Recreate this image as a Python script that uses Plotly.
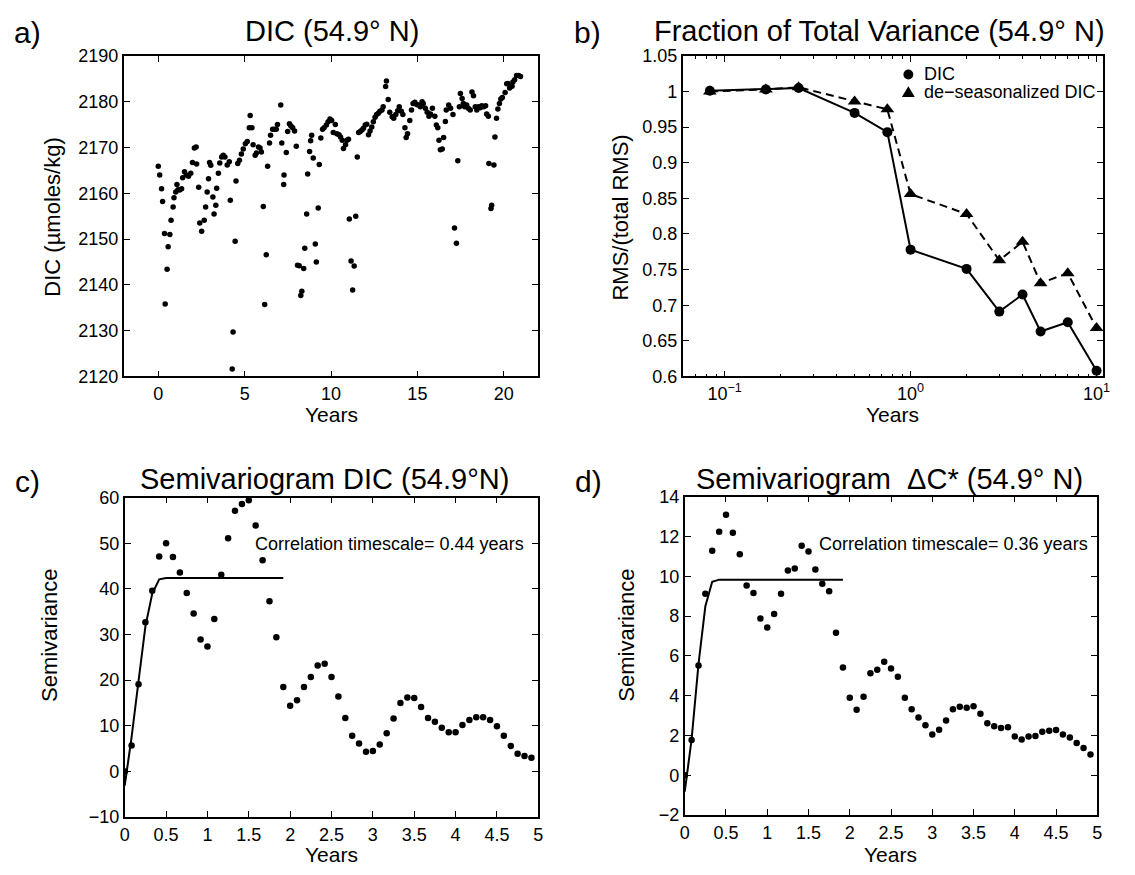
import plotly.graph_objects as go

W, H = 1135, 875
FONT = "Liberation Sans, Arial, Helvetica, sans-serif"

# ---------------- data ----------------
# Panel a: DIC time series
years_a = [0, 0.08, 0.19, 0.25, 0.36, 0.40, 0.51, 0.57, 0.67, 0.74,
           0.86, 0.91, 1.01, 1.08, 1.14, 1.24, 1.35, 1.41, 1.52, 1.62,
           1.75, 1.88, 1.98, 2.09, 2.19, 2.22, 2.34, 2.40, 2.51, 2.66,
           2.74, 2.83, 2.91, 2.97, 3.04, 3.16, 3.23, 3.33, 3.38, 3.48,
           3.56, 3.67, 3.76, 3.86, 3.99, 4.11, 4.17, 4.28, 4.33, 4.45,
           4.50, 4.60, 4.70, 4.81, 4.92, 5.04, 5.15, 5.27, 5.32, 5.42,
           5.49, 5.61, 5.68, 5.80, 5.89, 5.97, 6.08, 6.16, 6.25, 6.33,
           6.44, 6.50, 6.62, 6.73, 6.83, 6.90, 7.09, 7.15, 7.26, 7.28,
           7.41, 7.49, 7.59, 7.68, 7.78, 7.89, 7.99, 8.06, 8.16, 8.25,
           8.31, 8.42, 8.48, 8.59, 8.65, 8.76, 8.82, 8.88, 8.97, 9.09,
           9.15, 9.26, 9.32, 9.41, 9.51, 9.60, 9.73, 9.83, 9.94, 10.04,
           10.13, 10.25, 10.34, 10.46, 10.55, 10.65, 10.72, 10.84, 10.93, 11.01,
           11.06, 11.16, 11.25, 11.34, 11.43, 11.52, 11.60, 11.69, 11.79, 11.88,
           11.98, 12.07, 12.17, 12.26, 12.36, 12.45, 12.55, 12.64, 12.74, 12.83,
           12.95, 13.02, 13.16, 13.21, 13.31, 13.40, 13.54, 13.63, 13.75, 13.86,
           13.95, 14.07, 14.16, 14.28, 14.35, 14.43, 14.56, 14.66, 14.75, 14.85,
           14.96, 15.06, 15.17, 15.27, 15.34, 15.46, 15.57, 15.67, 15.76, 15.87,
           16.01, 16.10, 16.18, 16.25, 16.33, 16.44, 16.52, 16.62, 16.67, 16.81,
           16.92, 17.06, 17.15, 17.26, 17.34, 17.43, 17.49, 17.59, 17.66, 17.74,
           17.85, 17.95, 18.06, 18.16, 18.25, 18.35, 18.44, 18.54, 18.63, 18.73,
           18.84, 18.95, 19.01, 19.11, 19.14, 19.26, 19.30, 19.43, 19.49, 19.58,
           19.66, 19.75, 19.83, 19.92, 20.08, 20.17, 20.25, 20.34, 20.48, 20.53,
           20.63, 20.74, 20.86, 20.97]
dic_a = [2165.9, 2164.0, 2161.0, 2158.2, 2151.2, 2135.8, 2143.4, 2148.3, 2151.0, 2154.1,
         2157.0, 2159.0, 2160.3, 2161.9, 2160.8, 2160.7, 2161.0, 2163.4, 2164.7, 2164.0,
         2163.7, 2164.4, 2166.7, 2169.9, 2170.1, 2166.4, 2161.3, 2153.5, 2151.7, 2154.1,
         2157.0, 2160.3, 2163.2, 2166.7, 2166.1, 2159.2, 2155.5, 2157.4, 2161.1, 2164.4,
         2166.6, 2167.9, 2168.3, 2167.9, 2166.2, 2166.9, 2158.5, 2121.6, 2129.7, 2149.5,
         2162.7, 2166.5, 2167.2, 2168.6, 2169.7, 2170.8, 2171.3, 2174.3, 2177.0, 2174.3,
         2170.6, 2168.3, 2168.8, 2170.1, 2169.9, 2169.0, 2157.1, 2135.7, 2146.6, 2165.9,
         2171.0, 2172.7, 2174.0, 2174.0, 2174.0, 2175.0, 2179.3, 2171.0, 2161.9, 2164.0,
         2168.9, 2173.5, 2175.2, 2174.7, 2174.3, 2173.6, 2170.3, 2144.3, 2144.2, 2137.7,
         2138.6, 2143.6, 2148.0, 2155.5, 2164.2, 2169.1, 2171.5, 2172.7, 2167.7, 2148.9,
         2145.0, 2156.8, 2166.3, 2172.1, 2174.0, 2174.3, 2174.9, 2175.6, 2176.2, 2175.9,
         2173.3, 2175.0, 2173.0, 2172.8, 2172.3, 2171.6, 2169.8, 2170.6, 2171.6, 2171.8,
         2154.4, 2145.2, 2138.9, 2144.1, 2155.0, 2167.9, 2173.3, 2173.5, 2173.8, 2174.2,
         2174.9, 2175.1, 2172.8, 2173.6, 2174.5, 2175.6, 2176.6, 2177.2, 2177.5, 2177.9,
         2178.2, 2178.9, 2183.3, 2184.5, 2180.5, 2177.7, 2176.7, 2176.4, 2177.2, 2178.0,
         2178.9, 2177.9, 2177.2, 2174.3, 2172.2, 2173.0, 2175.9, 2178.2, 2179.6, 2179.9,
         2179.4, 2179.3, 2178.9, 2180.0, 2179.6, 2178.6, 2177.7, 2176.8, 2177.3, 2178.6,
         2176.8, 2174.9, 2174.3, 2171.6, 2169.5, 2169.7, 2172.2, 2175.7, 2178.2, 2179.3,
         2178.6, 2177.2, 2152.4, 2149.1, 2167.1, 2178.9, 2181.8, 2180.7, 2179.6, 2178.9,
         2179.3, 2178.6, 2178.2, 2182.1, 2181.3, 2178.9, 2178.2, 2178.9, 2178.7, 2179.1,
         2178.9, 2179.1, 2177.3, 2176.8, 2166.5, 2156.7, 2157.4, 2166.2, 2172.3, 2176.4,
         2178.4, 2179.6, 2180.6, 2180.9, 2182.0, 2183.9, 2184.0, 2183.0, 2183.4, 2184.3,
         2184.8, 2185.7, 2185.7, 2185.5]

# Panel b: fraction of total variance
win_b = [0.0833, 0.1667, 0.25, 0.5, 0.75, 1, 2, 3, 4, 5, 7, 10]
rms_dic = [1.001, 1.003, 1.005, 0.970, 0.943, 0.778, 0.751, 0.691, 0.715, 0.663, 0.676, 0.608]
rms_deseas = [1.000, 1.003, 1.006, 0.986, 0.975, 0.856, 0.828, 0.763, 0.789, 0.731, 0.745, 0.668]
legend_b = ["DIC", "de\u2212seasonalized DIC"]

# Panels c, d: semivariograms (monthly lags)
lags = [0, 0.083, 0.167, 0.25, 0.333, 0.417, 0.5, 0.583, 0.667, 0.75,
        0.833, 0.917, 1, 1.083, 1.167, 1.25, 1.333, 1.417, 1.5, 1.583,
        1.667, 1.75, 1.833, 1.917, 2, 2.083, 2.167, 2.25, 2.333, 2.417,
        2.5, 2.583, 2.667, 2.75, 2.833, 2.917, 3, 3.083, 3.167, 3.25,
        3.333, 3.417, 3.5, 3.583, 3.667, 3.75, 3.833, 3.917, 4, 4.083,
        4.167, 4.25, 4.333, 4.417, 4.5, 4.583, 4.667, 4.75, 4.833, 4.917]
semi_dic = [0, 5.7, 19.1, 32.7, 39.6, 47.1, 50.0, 47.0, 43.6, 39.1,
            34.6, 28.9, 27.4, 33.4, 43.1, 51.1, 57.1, 58.6, 59.4, 53.9,
            46.3, 37.3, 29.4, 18.5, 14.4, 15.6, 18.5, 20.7, 23.2, 23.6,
            20.7, 16.4, 11.7, 7.8, 6.1, 4.3, 4.5, 5.9, 8.4, 11.6,
            15.0, 16.2, 16.1, 14.1, 11.7, 10.9, 9.6, 8.6, 8.6, 10.2,
            11.3, 11.9, 11.9, 11.3, 9.9, 7.8, 5.6, 3.9, 3.4, 3.0]
fit_dic = [-3.1, 7.5, 19.8, 31.8, 39.0, 42.1, 42.4, 42.4, 42.4, 42.4, 42.4, 42.4,
           42.4, 42.4, 42.4, 42.4, 42.4, 42.4, 42.4, 42.4, 42.4, 42.4, 42.4, 42.4]
semi_dc = [0, 1.77, 5.52, 9.12, 11.28, 12.23, 13.09, 12.19, 11.11, 9.53,
           9.16, 7.88, 7.42, 8.11, 9.12, 10.29, 10.39, 11.53, 11.24, 10.34,
           9.62, 9.25, 7.16, 5.42, 3.90, 3.29, 3.95, 5.13, 5.31, 5.70,
           5.37, 4.95, 3.90, 3.32, 2.90, 2.52, 2.05, 2.29, 2.75, 3.32,
           3.44, 3.39, 3.47, 3.10, 2.62, 2.47, 2.38, 2.42, 1.95, 1.80,
           1.95, 1.98, 2.19, 2.24, 2.28, 2.05, 1.90, 1.62, 1.38, 1.05]
fit_dc = [-0.82, 1.8, 5.6, 8.5, 9.72, 9.83, 9.83, 9.83, 9.83, 9.83, 9.83, 9.83,
          9.83, 9.83, 9.83, 9.83, 9.83, 9.83, 9.83, 9.83, 9.83, 9.83, 9.83, 9.83]

# tick labels
ticks_a_y = [2120, 2130, 2140, 2150, 2160, 2170, 2180, 2190]
ticks_a_x = [0, 5, 10, 15, 20]
ticks_b_y = [0.6, 0.65, 0.7, 0.75, 0.8, 0.85, 0.9, 0.95, 1.0, 1.05]
ticks_b_ytext = ["0.6", "0.65", "0.7", "0.75", "0.8", "0.85", "0.9", "0.95", "1", "1.05"]
ticks_b_x = [0.1, 1, 10]
ticks_b_xtext = ["10<sup>\u22121</sup>", "10<sup>0</sup>", "10<sup>1</sup>"]
minor_b_x = [0.06, 0.07, 0.08, 0.09, 0.2, 0.3, 0.4, 0.5, 0.6, 0.7, 0.8, 0.9,
             2, 3, 4, 5, 6, 7, 8, 9]
ticks_cd_x = [0, 0.5, 1, 1.5, 2, 2.5, 3, 3.5, 4, 4.5, 5]
ticks_cd_xtext = ["0", "0.5", "1", "1.5", "2", "2.5", "3", "3.5", "4", "4.5", "5"]
ticks_c_y = [-10, 0, 10, 20, 30, 40, 50, 60]
ticks_d_y = [-2, 0, 2, 4, 6, 8, 10, 12, 14]

# ---------------- figure ----------------
fig = go.Figure()

def px(x):
    return x / W

def py(y):
    return 1 - y / H

# panel a
fig.add_trace(go.Scatter(x=years_a, y=dic_a, mode="markers", xaxis="x", yaxis="y",
                         marker=dict(color="black", size=5.5), showlegend=False))
# panel b
fig.add_trace(go.Scatter(x=win_b, y=rms_dic, mode="lines+markers", xaxis="x2", yaxis="y2",
                         line=dict(color="black", width=2),
                         marker=dict(color="black", size=10, symbol="circle"), showlegend=False))
fig.add_trace(go.Scatter(x=win_b, y=rms_deseas, mode="lines+markers", xaxis="x2", yaxis="y2",
                         line=dict(color="black", width=2, dash="8px,5px"),
                         marker=dict(color="black", size=12, symbol="triangle-up"), showlegend=False))
# panel c
fig.add_trace(go.Scatter(x=lags, y=semi_dic, mode="markers", xaxis="x3", yaxis="y3",
                         marker=dict(color="black", size=6.5), showlegend=False))
fig.add_trace(go.Scatter(x=lags[:len(fit_dic)], y=fit_dic, mode="lines", xaxis="x3", yaxis="y3",
                         line=dict(color="black", width=2), showlegend=False))
# panel d
fig.add_trace(go.Scatter(x=lags, y=semi_dc, mode="markers", xaxis="x4", yaxis="y4",
                         marker=dict(color="black", size=6.5), showlegend=False))
fig.add_trace(go.Scatter(x=lags[:len(fit_dc)], y=fit_dc, mode="lines", xaxis="x4", yaxis="y4",
                         line=dict(color="black", width=2), showlegend=False))

TICKFONT = dict(family=FONT, size=18, color="black")

def axis(domain, rng, **kw):
    d = dict(domain=domain, range=rng, showline=True, linecolor="black", linewidth=1.7,
             mirror="ticks", ticks="inside", ticklen=6, tickwidth=1, tickcolor="black",
             showgrid=False, zeroline=False, tickfont=TICKFONT, fixedrange=True)
    d.update(kw)
    return d

# pixel boxes (left, right, top, bottom)
A = (120, 539, 47, 375)
B = (685, 1110, 47, 375)
C = (121, 539, 499, 826)
D = (687, 1104, 498, 824)

fig.update_layout(
    width=W, height=H, margin=dict(l=0, r=0, t=0, b=0),
    paper_bgcolor="white", plot_bgcolor="white",
    font=dict(family=FONT, color="black"), showlegend=False,
    xaxis=axis([px(A[0]), px(A[1])], [-2, 22], anchor="y", tickvals=ticks_a_x),
    yaxis=axis([py(A[3]), py(A[2])], [2120, 2190], anchor="x", tickvals=ticks_a_y),
    xaxis2=axis([px(B[0]), px(B[1])], [-1.225, 1.036], anchor="y2", type="log",
                tickvals=ticks_b_x, ticktext=ticks_b_xtext,
                minor=dict(tickvals=minor_b_x, ticks="inside", ticklen=3, tickcolor="black", showgrid=False)),
    yaxis2=axis([py(B[3]), py(B[2])], [0.6, 1.05], anchor="x2",
                tickvals=ticks_b_y, ticktext=ticks_b_ytext),
    xaxis3=axis([px(C[0]), px(C[1])], [0, 5], anchor="y3", tickvals=ticks_cd_x, ticktext=ticks_cd_xtext),
    yaxis3=axis([py(C[3]), py(C[2])], [-10, 60], anchor="x3", tickvals=ticks_c_y),
    xaxis4=axis([px(D[0]), px(D[1])], [0, 5], anchor="y4", tickvals=ticks_cd_x, ticktext=ticks_cd_xtext),
    yaxis4=axis([py(D[3]), py(D[2])], [-2, 14], anchor="x4", tickvals=ticks_d_y),
)

def ann(text, x, y, size, xanchor="center", angle=0):
    return dict(text=text, x=px(x), y=py(y), xref="paper", yref="paper", showarrow=False,
                xanchor=xanchor, yanchor="middle", textangle=angle,
                font=dict(family=FONT, size=size, color="black"))

annotations = [
    ann("a)", 23, 23, 30), ann("b)", 589, 23, 30),
    ann("c)", 23, 483, 30), ann("d)", 590, 483, 30),
    ann("DIC (54.9\u00b0 N)", 330, 22, 29),
    ann("Fraction of Total Variance (54.9\u00b0 N)", 884, 22, 29),
    ann("Semivariogram DIC (54.9\u00b0N)", 323, 480, 29),
    ann("Semivariogram  \u0394C* (54.9\u00b0 N)", 894, 480, 29),
    ann("Years", 330, 414, 21), ann("Years", 897, 414, 21),
    ann("Years", 330, 864, 21), ann("Years", 895, 864, 21),
    ann("DIC (\u00b5moles/kg)", 48, 212, 22, angle=-90),
    ann("RMS/(total RMS)", 622, 212, 22, angle=-90),
    ann("Semivariance", 45, 640, 22, angle=-90),
    ann("Semivariance", 628, 640, 22, angle=-90),
    ann("Correlation timescale= 0.44 years", 251, 547, 18, xanchor="left"),
    ann("Correlation timescale= 0.36 years", 821, 547, 18, xanchor="left"),
    ann(legend_b[0], 927, 66, 18, xanchor="left"),
    ann(legend_b[1], 927, 84, 18, xanchor="left"),
]

# legend glyphs for panel b (drawn as shapes in paper coordinates)
shapes = [
    dict(type="circle", xref="paper", yref="paper",
         x0=px(908), x1=px(918), y0=py(71), y1=py(61),
         fillcolor="black", line=dict(color="black", width=0)),
    dict(type="path", xref="paper", yref="paper",
         path="M {} {} L {} {} L {} {} Z".format(px(906.5), py(89), px(919.5), py(89), px(913), py(78)),
         fillcolor="black", line=dict(color="black", width=0)),
]
fig.update_layout(annotations=annotations, shapes=shapes)

fig.write_html("out.html")
